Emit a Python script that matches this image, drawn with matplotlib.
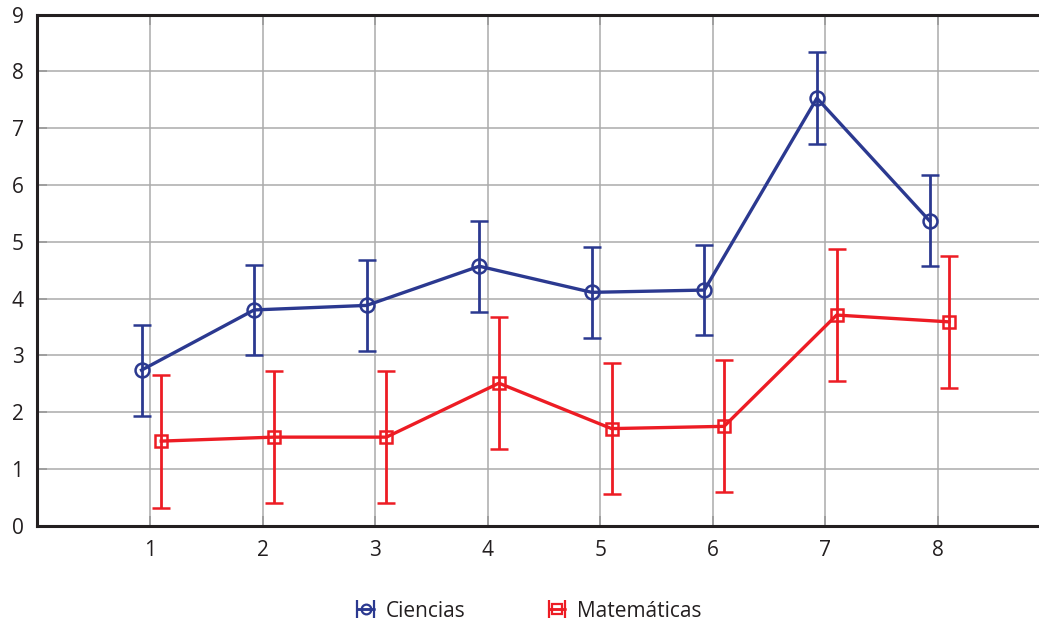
import numpy as np
import matplotlib
matplotlib.use("Agg")
import matplotlib.pyplot as plt
from matplotlib.legend_handler import HandlerErrorbar

plt.rcParams['font.family'] = ['Open Sans', 'DejaVu Sans']

categories = [1, 2, 3, 4, 5, 6, 7, 8]
ciencias = [2.74, 3.80, 3.88, 4.57, 4.11, 4.15, 7.53, 5.37]
ciencias_err = [0.80, 0.80, 0.80, 0.80, 0.80, 0.80, 0.81, 0.80]
matematicas = [1.49, 1.56, 1.56, 2.51, 1.71, 1.75, 3.71, 3.59]
matematicas_err = [1.17, 1.16, 1.16, 1.16, 1.16, 1.16, 1.16, 1.16]
xticks = [1, 2, 3, 4, 5, 6, 7, 8]
yticks = [0, 1, 2, 3, 4, 5, 6, 7, 8, 9]

blue = '#2B3990'
red = '#ED1C24'

W, H = 1039, 623
fig = plt.figure(figsize=(W / 100, H / 100), dpi=100)
x0 = 37.4
unit = 112.57
ax = fig.add_axes([x0 / W, (H - 525.7) / H, 9 * unit / W, (525.7 - 14.7) / H])

cx = np.array(categories, dtype=float)
ax.errorbar(cx - 0.075, ciencias, yerr=ciencias_err, color=blue, lw=2.4,
            marker='o', ms=10, mfc='none', mec=blue, mew=1.8,
            elinewidth=2.0, capsize=6.2, capthick=2.0, zorder=3)
ax.errorbar(cx + 0.1, matematicas, yerr=matematicas_err, color=red, lw=2.4,
            marker='s', ms=9, mfc='none', mec=red, mew=1.8,
            elinewidth=2.0, capsize=6.2, capthick=2.0, zorder=4)

ax.set_xlim(0, 9)
ax.set_ylim(0, 9)
ax.set_xticks(xticks)
ax.set_yticks(yticks)
ax.grid(True, color='#ABABAB', lw=1.1, zorder=0)
ax.set_axisbelow(True)

for s in ['left', 'bottom', 'top']:
    ax.spines[s].set_color('#231F20')
    ax.spines[s].set_linewidth(2.2)
ax.spines['right'].set_visible(False)

ax.tick_params(axis='both', direction='in', length=7, width=1.2, color='#999999',
               labelsize=15, labelcolor='#231F20')
ax.tick_params(axis='y', pad=10)
ax.tick_params(axis='x', pad=10, top=True)

# legend handles (horizontal error style)
hb = ax.errorbar([np.nan], [np.nan], xerr=[np.nan], color=blue, lw=1.8,
                 marker='o', ms=7, mfc='none', mec=blue, mew=1.6,
                 capsize=6.5, capthick=2.2, label='Ciencias')
hr = ax.errorbar([np.nan], [np.nan], xerr=[np.nan], color=red, lw=1.8,
                 marker='s', ms=7, mfc='none', mec=red, mew=1.6,
                 capsize=6.5, capthick=2.2, label='Matemáticas')
fig.legend(handles=[hb, hr], labels=['Ciencias', 'Matemáticas'],
           loc='center', bbox_to_anchor=(0.51, 0.019), ncol=2, frameon=False,
           fontsize=15, handlelength=0.75, handletextpad=0.6, columnspacing=4.0,
           handler_map={type(hb): HandlerErrorbar(xerr_size=0.4)},
           labelcolor='#231F20')

fig.savefig('out.png', dpi=100)
